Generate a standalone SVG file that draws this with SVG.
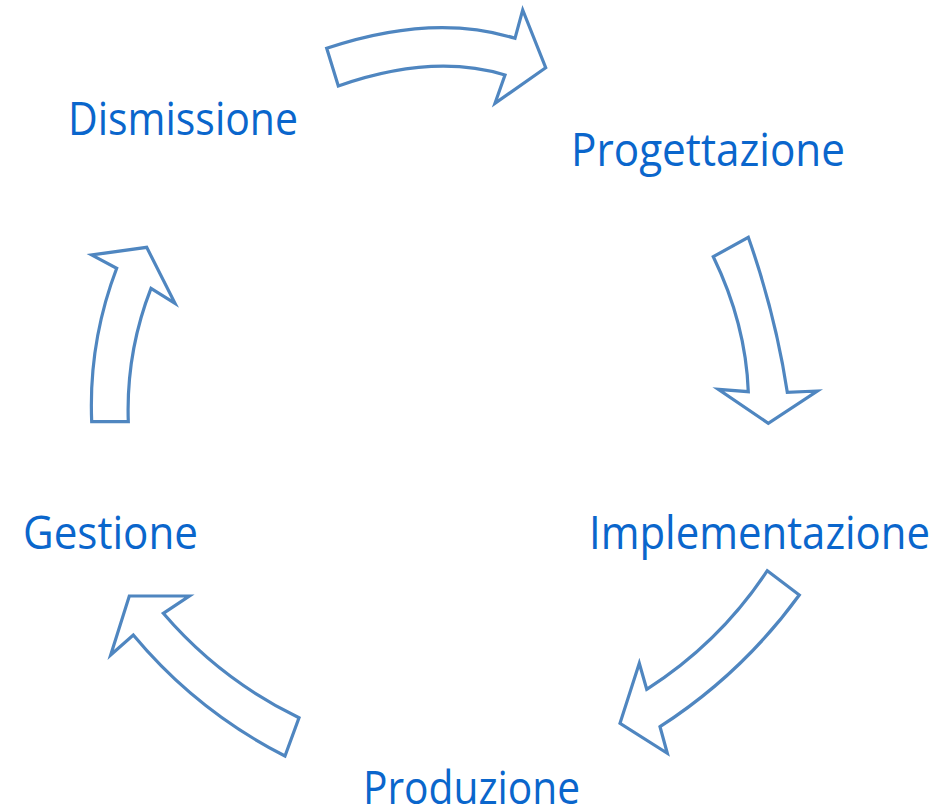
<svg xmlns="http://www.w3.org/2000/svg" width="936" height="807" viewBox="0 0 936 807">
<style>
.arrow{fill:#ffffff;stroke:#4f86c0;stroke-width:3.2;stroke-linejoin:miter}
.lbl{font-family:"Open Sans","Liberation Sans",sans-serif;font-size:45px;fill:#0a66cc}
</style>
<rect width="936" height="807" fill="#ffffff"/>
<g id="connectors">
<path class="arrow" d="M326.7,48.3 Q433,12.7 515,38.3 L522.7,10 L545.7,67.7 L495,103.3 L505,75 Q432.4,52.9 338.3,86 Z"/>
<path class="arrow" d="M713.3,256.7 L748.3,237.3 Q775.6,314.8 787.3,392.3 L817.3,391 L768.3,423.3 L718.3,389.3 L748.3,391.7 Q745.8,323.8 713.3,256.7 Z"/>
<path class="arrow" d="M767.3,570.7 L799.3,595 Q742,673.8 660,726.7 L667.3,753.3 L620,723.3 L639.3,663.3 L646.7,689.3 Q719.6,642.8 767.3,570.7 Z"/>
<path class="arrow" d="M285,756 L299,717.7 Q220.2,679.7 163.3,613.3 L189.3,596 L129.3,596 L110.7,655 L133.3,635 Q196.7,711.1 285,756 Z"/>
<path class="arrow" d="M91.7,421.7 L128.3,421.7 Q125.9,352.6 151,288.3 L175,303.3 L146.7,247.3 L91.7,255 L116.7,268.3 Q88.4,342.4 91.7,421.7 Z"/>
</g>
<g id="node-dismissione"><text class="lbl" x="68" y="135" textLength="230" lengthAdjust="spacingAndGlyphs">Dismissione</text></g>
<g id="node-progettazione"><text class="lbl" x="571" y="166" textLength="274" lengthAdjust="spacingAndGlyphs">Progettazione</text></g>
<g id="node-implementazione"><text class="lbl" x="589" y="549" textLength="341" lengthAdjust="spacingAndGlyphs">Implementazione</text></g>
<g id="node-gestione"><text class="lbl" x="23" y="549" textLength="175" lengthAdjust="spacingAndGlyphs">Gestione</text></g>
<g id="node-produzione"><text class="lbl" x="363" y="804" textLength="217" lengthAdjust="spacingAndGlyphs">Produzione</text></g>
</svg>
